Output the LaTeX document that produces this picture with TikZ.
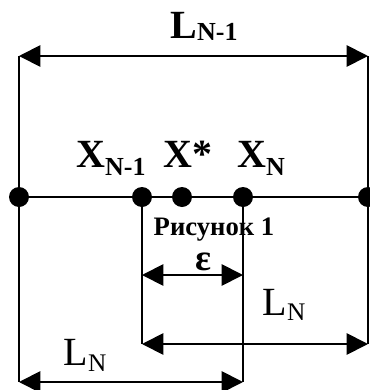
\documentclass[tikz,border=0pt]{standalone}
\usepackage{fontspec}
\setmainfont{Liberation Serif}
\usetikzlibrary{arrows.meta}
\newcommand\idx[3]{\raisebox{#1}{\fontsize{#2}{#2}\selectfont #3}}
\tikzset{
 pt/.style={circle,fill,inner sep=0pt,minimum size=15pt},
 ext/.style={line width=1.4pt},
 dim/.style={line width=1.4pt,{Triangle[length=16pt,width=16pt]}-{Triangle[length=16pt,width=16pt]}},
 lab/.style={anchor=base,inner sep=0pt},
 bigb/.style={lab,font=\fontsize{30}{32}\selectfont\bfseries},
 bigr/.style={lab,font=\fontsize{30}{32}\selectfont},
}
\begin{document}
\begin{tikzpicture}[x=0.75pt,y=-0.75pt]
\useasboundingbox (0,0) rectangle (370,390);
% axis with the points
\foreach \n/\x in {a/19,b/142,s/182,c/243,d/368}{
 \node[pt] (\n) at (\x,197) {};
}
\draw[line width=2.2pt] (a.center) -- (d.center);
% ends of the dimension lines
\coordinate (a0) at (19,56); \coordinate (d0) at (368,56);
\coordinate (a1) at (19,382); \coordinate (c1) at (243,382);
\coordinate (b1) at (142,344); \coordinate (d1) at (368,344);
\coordinate (e1) at (142,275); \coordinate (e2) at (243,275);
\draw[ext] (a0) -- (a1) (d0) -- (d1) (b.center) -- (b1) (c.center) -- (c1);
\draw[dim] (a0) -- (d0);
\draw[dim] (e1) -- (e2);
\draw[dim] (b1) -- (d1);
\draw[dim] (a1) -- (c1);
% labels
\node[bigb] (lnm) at (204,38) {L\idx{-1.5pt}{19.5}{N-1}};
\node[bigb] (xnm) at (111,167) {X\idx{-6pt}{19.5}{N-1}};
\node[bigb] (xs) at (188,167) {X*};
\node[bigb] (xn) at (261,167) {X\idx{-6pt}{19.5}{N}};
\node[lab,font=\fontsize{20}{22}\selectfont\bfseries] (cap) at (214,235) {Рисунок 1};
\node[lab,font=\fontsize{28}{30}\selectfont\bfseries] (eps) at (203,270) {ε};
\node[bigr] (ln1) at (284,315) {L\idx{-4pt}{19}{N}};
\node[bigr] (ln2) at (85,365) {L\idx{-4.5pt}{19}{N}};
\end{tikzpicture}
\end{document}
